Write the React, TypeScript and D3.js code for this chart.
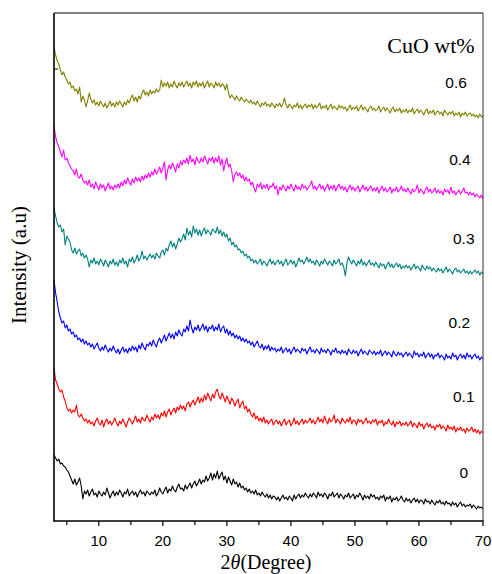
import React from "react";
import * as d3 from "d3";

// 2θ sampling: 3° to 70° in 0.25° steps (269 points per pattern)
const X_START = 3;
const X_STEP = 0.25;

// Stacked intensities (a.u.) for each CuO loading
const s0 = [
  66,63,60,62,57,58,55,54,51,49,45,41,37,42,36,39,43,35,22,30,
  27,31,25,29,32,26,28,24,30,27,25,29,26,33,28,23,27,30,25,29,
  26,31,28,24,29,27,32,25,28,30,26,29,24,28,31,27,29,25,30,28,
  26,29,27,31,25,28,33,29,27,31,34,28,32,30,35,31,29,34,37,32,
  33,30,36,32,35,38,33,37,40,35,38,42,37,41,39,45,40,43,48,41,
  47,43,50,42,46,49,41,45,38,44,40,36,42,37,39,34,38,33,35,31,
  33,29,32,28,30,27,31,26,28,25,29,26,24,27,23,26,22,25,24,21,
  24,20,23,26,22,24,21,25,23,20,26,22,25,27,23,26,24,28,25,23,
  27,24,28,26,23,29,25,27,24,28,26,22,27,25,29,24,26,28,23,27,
  25,22,26,24,28,23,25,27,22,26,24,28,25,21,26,23,25,22,27,24,
  26,22,24,21,25,23,26,20,24,22,25,19,23,21,24,20,22,25,21,19,
  23,20,22,18,21,23,19,22,18,21,20,17,22,19,20,17,21,18,16,20,
  18,21,17,19,16,20,17,18,15,19,16,18,14,17,19,15,17,14,16,15,
  17,13,16,14,12,15,13,14,12,
];
const s01 = [
  153,141,137,132,129,131,124,120,113,110,112,108,111,109,116,106,104,107,103,100,
  102,98,101,97,99,95,100,103,98,96,101,94,99,102,97,100,96,99,103,98,
  95,100,97,102,98,94,99,103,100,97,101,105,99,102,98,104,101,100,106,102,
  99,104,101,107,103,106,102,108,105,110,104,109,112,106,110,113,108,114,111,116,
  112,115,110,117,119,114,118,121,116,120,124,118,123,119,126,121,128,124,120,127,
  123,129,132,125,122,128,124,119,125,121,117,123,120,115,119,122,113,117,120,112,
  115,109,112,107,104,108,102,105,100,103,99,104,98,101,97,100,102,96,99,101,
  97,100,95,99,102,96,99,101,95,98,103,97,100,96,99,102,97,101,98,100,
  103,98,101,97,100,104,99,102,98,105,100,97,103,99,101,106,98,102,100,97,
  103,100,98,102,99,104,97,101,100,96,102,99,101,97,100,103,98,100,97,101,
  99,102,96,100,98,101,95,99,97,102,98,96,100,94,99,97,100,95,98,96,
  99,95,97,100,94,98,96,93,99,95,97,92,96,98,94,97,93,95,91,96,
  94,97,92,95,93,90,96,92,94,91,95,89,93,91,94,90,92,88,93,90,
  91,94,89,92,88,91,87,90,88,
];
const s02 = [
  241,228,219,209,203,198,200,193,196,190,192,187,189,184,186,181,183,179,182,177,
  180,176,178,174,177,172,175,178,173,170,174,171,176,172,169,173,170,175,171,168,
  172,167,171,174,169,172,168,173,170,175,171,174,169,176,172,178,174,171,177,175,
  179,175,181,177,174,180,183,178,182,186,180,184,188,183,187,182,189,185,191,187,
  185,192,189,195,190,201,193,188,194,191,196,190,193,197,191,195,189,194,192,196,
  190,194,191,197,189,193,195,188,192,186,190,185,188,183,186,182,185,180,183,179,
  182,178,180,176,179,174,177,180,175,173,177,171,175,172,176,170,174,171,173,169,
  172,170,174,168,171,173,169,172,167,171,174,169,172,170,168,173,170,172,167,171,
  174,169,171,168,172,170,167,173,169,171,168,172,170,166,171,169,173,168,170,167,
  171,168,170,166,172,169,167,171,168,170,165,169,172,167,170,168,166,171,169,167,
  170,166,169,167,171,165,168,170,166,169,167,164,170,167,165,169,166,168,164,167,
  169,165,168,166,163,170,166,168,164,167,165,169,163,166,168,164,167,162,166,165,
  168,163,166,164,161,167,163,165,162,168,164,166,161,165,167,163,166,162,168,164,
  166,162,165,167,163,165,161,164,162,
];
const s03 = [
  313,305,298,294,296,289,292,276,285,282,279,271,268,273,267,270,272,265,268,263,
  266,262,254,261,258,263,257,260,256,262,259,255,261,258,254,260,257,262,256,259,
  255,261,258,263,257,260,254,262,259,264,258,261,266,260,263,270,262,265,261,264,
  267,263,266,262,268,265,263,269,271,266,273,270,276,280,274,278,272,277,283,279,
  282,287,281,293,286,290,284,295,288,292,286,291,285,290,293,287,291,289,286,292,
  290,288,294,287,291,285,289,284,287,280,283,276,279,274,276,271,272,268,270,265,
  267,263,265,260,262,258,261,257,259,262,256,260,258,255,259,262,257,260,256,259,
  261,257,260,255,259,262,256,258,261,257,260,254,258,263,259,261,257,260,264,259,
  262,258,260,256,261,258,255,260,257,262,259,256,260,258,255,261,257,259,262,256,
  258,254,245,258,264,260,257,261,258,255,260,257,262,256,259,255,258,261,256,258,
  255,259,256,253,258,255,257,252,256,259,254,257,253,256,258,254,257,252,255,253,
  256,253,255,251,254,257,252,255,253,250,256,253,251,255,252,254,250,253,251,249,
  253,250,252,248,251,254,249,252,250,247,251,253,249,251,248,250,252,248,250,247,
  250,247,249,251,248,250,246,249,247,
];
const s04 = [
  396,384,378,374,369,364,371,361,363,358,355,352,350,346,352,344,343,347,341,338,
  340,336,341,334,337,332,339,335,331,337,333,336,330,334,338,332,335,331,336,333,
  337,333,339,335,341,337,343,339,336,342,338,344,340,343,339,345,341,346,343,348,
  344,349,346,352,347,350,354,348,353,359,341,351,356,352,358,354,349,357,353,360,
  356,361,358,363,357,366,359,362,356,364,360,358,363,359,365,361,357,363,360,364,
  358,363,359,365,356,362,350,358,363,354,357,350,339,347,349,345,348,343,346,340,
  344,340,342,336,339,333,329,337,334,338,332,336,333,337,331,335,334,338,332,335,
  326,334,331,336,333,330,335,332,337,333,330,336,332,334,331,337,333,335,331,334,
  336,340,332,335,331,334,337,332,335,330,334,337,331,335,332,336,330,334,337,332,
  335,331,334,329,333,336,331,334,330,333,335,329,332,336,331,334,330,333,335,330,
  333,330,334,328,332,335,330,333,329,331,334,328,332,330,334,329,331,335,330,332,
  329,333,330,327,332,329,331,336,328,332,330,327,331,334,329,332,328,330,333,328,
  331,328,330,326,332,329,331,327,334,328,330,326,329,331,327,330,333,328,329,326,
  329,326,328,324,327,325,323,326,322,
];
const s06 = [
  474,466,460,457,451,446,449,444,441,437,439,433,435,430,432,427,434,419,425,421,
  414,420,428,422,418,421,416,419,415,420,417,414,418,413,416,420,415,418,414,419,
  416,420,417,414,419,416,421,418,423,426,420,424,419,425,422,428,431,426,429,425,
  431,427,430,428,432,429,431,441,434,438,435,439,433,437,434,440,436,433,438,435,
  439,434,437,440,435,438,433,439,436,440,434,438,435,439,433,437,440,434,438,436,
  433,439,435,438,434,437,436,431,437,428,423,426,424,421,425,422,420,424,421,419,
  422,420,418,421,417,419,416,420,417,414,418,416,419,415,417,414,418,416,413,417,
  415,418,414,417,423,416,413,417,415,412,416,414,418,413,416,412,415,417,413,416,
  414,417,412,416,413,415,418,412,415,413,416,411,414,417,412,415,413,411,416,413,
  415,412,414,410,413,416,411,414,412,415,410,413,416,411,414,412,409,413,415,411,
  413,410,412,415,409,412,414,410,413,411,408,412,414,409,412,410,413,408,411,409,
  412,408,411,409,413,407,410,412,408,411,409,406,410,412,407,410,408,411,406,409,
  410,407,409,405,411,408,406,409,407,410,405,408,406,409,404,408,406,409,405,407,
  408,405,407,404,406,403,407,404,405,
];

const seriesNames = ["0", "0.1", "0.2", "0.3", "0.4", "0.6"];
const seriesValues = [s0, s01, s02, s03, s04, s06];
const seriesColors = ["#000000", "#ff0000", "#0000ff", "#008080", "#ff00ff", "#808000"];
// label anchors (degrees, a.u.)
const labelX = [67.0, 67.0, 66.3, 67.0, 66.4, 65.8];
const labelY = [43, 119, 193, 277, 356, 433];

const xTicks = [10, 20, 30, 40, 50, 60, 70];
const xMinorTicks = [5, 15, 25, 35, 45, 55, 65];

const W = 492;
const H = 574;
const L = 54;
const R = 483;
const T = 13;
const B = 521;

export default function App() {
  const x = d3.scaleLinear().domain([3, 70]).range([L, R]);
  const y = d3.scaleLinear().domain([0, B - T]).range([B, T]);
  const line = d3
    .line<number>()
    .x((_, i) => x(X_START + X_STEP * i))
    .y((v) => y(v));

  const sans = "Liberation Sans, Arial, sans-serif";
  const serif = "Liberation Serif, Times New Roman, serif";

  return (
    <svg
      width={W}
      height={H}
      style={{ position: "absolute", left: 0, top: 0, background: "#fff" }}
    >
      <rect x={0} y={0} width={W} height={H} fill="#fff" />
      {seriesValues.map((vals, k) => (
        <path
          key={k}
          d={line(vals) || ""}
          fill="none"
          stroke={seriesColors[k]}
          strokeWidth={1.1}
          strokeLinejoin="round"
        />
      ))}
      {/* frame */}
      <line x1={L} y1={T} x2={R} y2={T} stroke="#000" strokeWidth={1} />
      <line x1={R} y1={T} x2={R} y2={B} stroke="#333" strokeWidth={1} />
      <line x1={L} y1={T} x2={L} y2={B + 0.5} stroke="#000" strokeWidth={1.6} />
      <line x1={L - 0.5} y1={B} x2={R + 0.5} y2={B} stroke="#000" strokeWidth={1.6} />
      {/* y tick */}
      <line x1={L} y1={69} x2={L + 4} y2={69} stroke="#000" strokeWidth={1} />
      {/* x ticks */}
      {xTicks.map((t) => (
        <g key={"t" + t}>
          <line x1={x(t)} y1={B} x2={x(t)} y2={B + 5} stroke="#000" strokeWidth={1.2} />
          <text
            x={x(t)}
            y={B + 25}
            textAnchor="middle"
            fontFamily={sans}
            fontSize={15}
            fill="#000"
          >
            {t}
          </text>
        </g>
      ))}
      {xMinorTicks.map((t) => (
        <line key={"m" + t} x1={x(t)} y1={B} x2={x(t)} y2={B + 4} stroke="#000" strokeWidth={1.2} />
      ))}
      {/* x title */}
      <text x={266} y={569} textAnchor="middle" fontFamily={serif} fontSize={20} fill="#000">
        2<tspan fontStyle="italic">θ</tspan>(Degree)
      </text>
      {/* y title */}
      <text
        transform={`translate(26,265) rotate(-90)`}
        textAnchor="middle"
        fontFamily={serif}
        fontSize={21}
        fill="#000"
      >
        Intensity (a.u)
      </text>
      {/* legend title */}
      <text x={431} y={53} textAnchor="middle" fontFamily={serif} fontSize={22} fill="#000">
        CuO wt%
      </text>
      {seriesNames.map((n, k) => (
        <text
          key={"l" + k}
          x={x(labelX[k])}
          y={y(labelY[k])}
          textAnchor="middle"
          fontFamily={sans}
          fontSize={15.5}
          fill="#000"
        >
          {n}
        </text>
      ))}
    </svg>
  );
}
